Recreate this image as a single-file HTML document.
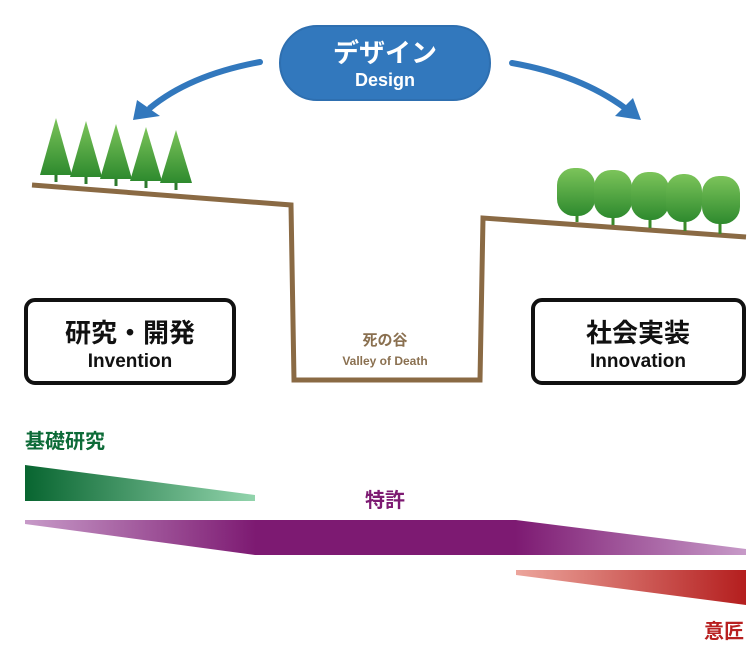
<!DOCTYPE html>
<html><head><meta charset="utf-8"><style>
html,body{margin:0;padding:0;background:#fff;width:756px;height:662px;overflow:hidden}
svg{display:block}
text{font-family:"Liberation Sans","Noto Sans CJK JP",sans-serif;font-weight:bold}
</style></head><body>
<svg width="756" height="662" viewBox="0 0 756 662" xmlns="http://www.w3.org/2000/svg">
<defs>
<linearGradient id="tree" x1="0" y1="0" x2="0" y2="1"><stop offset="0" stop-color="#7cc45a"/><stop offset="1" stop-color="#2e8a2e"/></linearGradient>
<linearGradient id="g" x1="0" x2="1"><stop offset="0" stop-color="#086530"/><stop offset="1" stop-color="#92d4ac"/></linearGradient>
<linearGradient id="p" x1="25" x2="746" gradientUnits="userSpaceOnUse"><stop offset="0" stop-color="#c79ac8"/><stop offset="0.32" stop-color="#7d1a72"/><stop offset="0.68" stop-color="#7d1a72"/><stop offset="1" stop-color="#c79ac8"/></linearGradient>
<linearGradient id="r" x1="0" x2="1"><stop offset="0" stop-color="#eca59c"/><stop offset="1" stop-color="#b41e1e"/></linearGradient>
</defs>
<!-- Design pill -->
<rect x="280" y="26" width="210" height="74" rx="37" fill="#3278bd" stroke="#2e6fb0" stroke-width="2"/>
<text x="385" y="62" font-size="26" fill="#fff" text-anchor="middle" font-weight="normal">デザイン</text>
<text x="385" y="86" font-size="18" fill="#fff" text-anchor="middle">Design</text>
<!-- arrows -->
<path d="M260 62 Q190 75 150 108" fill="none" stroke="#3278bd" stroke-width="6" stroke-linecap="round"/>
<polygon points="137,100 133,120 160,116" fill="#3278bd"/>
<path d="M512 63 Q580 75 625 108" fill="none" stroke="#3278bd" stroke-width="6" stroke-linecap="round"/>
<polygon points="633,98 641,120 615,116" fill="#3278bd"/>
<!-- ground -->
<path d="M32 185 L291 205 L294 380 L480 380 L483 218 L746 237" fill="none" stroke="#8a6a44" stroke-width="5" stroke-linejoin="miter"/>
<!-- conifers -->
<g stroke="#2e7a2e" stroke-width="3">
<line x1="56" y1="170" x2="56" y2="182"/><line x1="86" y1="172" x2="86" y2="184"/><line x1="116" y1="174" x2="116" y2="186"/><line x1="146" y1="176" x2="146" y2="188"/><line x1="176" y1="178" x2="176" y2="190"/>
</g>
<g fill="url(#tree)">
<polygon points="56,118 40,175 72,175"/><polygon points="86,121 70,177 102,177"/><polygon points="116,124 100,179 132,179"/><polygon points="146,127 130,181 162,181"/><polygon points="176,130 160,183 192,183"/>
</g>
<!-- round trees -->
<g stroke="#3a8a2a" stroke-width="3">
<line x1="577" y1="200" x2="577" y2="222"/><line x1="613" y1="202" x2="613" y2="225"/><line x1="650" y1="204" x2="650" y2="228"/><line x1="685" y1="206" x2="685" y2="231"/><line x1="720" y1="208" x2="720" y2="234"/>
</g>
<g fill="url(#tree)">
<rect x="557" y="168" width="38" height="48" rx="17"/><rect x="594" y="170" width="38" height="48" rx="17"/><rect x="631" y="172" width="38" height="48" rx="17"/><rect x="666" y="174" width="36" height="48" rx="17"/><rect x="702" y="176" width="38" height="48" rx="17"/>
</g>
<!-- boxes -->
<rect x="26" y="300" width="208" height="83" rx="9" fill="#fff" stroke="#111" stroke-width="4"/>
<text x="130" y="342" font-size="26" text-anchor="middle" fill="#111" font-weight="normal">研究・開発</text>
<text x="130" y="367" font-size="19" text-anchor="middle" fill="#111">Invention</text>
<rect x="533" y="300" width="211" height="83" rx="9" fill="#fff" stroke="#111" stroke-width="4"/>
<text x="638" y="342" font-size="26" text-anchor="middle" fill="#111" font-weight="normal">社会実装</text>
<text x="638" y="367" font-size="19" text-anchor="middle" fill="#111">Innovation</text>
<text x="385" y="345" font-size="15" text-anchor="middle" fill="#8a7050" font-weight="normal">死の谷</text>
<text x="385" y="365" font-size="12" text-anchor="middle" fill="#8a7050">Valley of Death</text>
<!-- bars -->
<text x="25" y="448" font-size="20" fill="#0d6b38">基礎研究</text>
<polygon points="25,465 255,495 255,501 25,501" fill="url(#g)"/>
<text x="385" y="507" font-size="20" fill="#7d1a72" text-anchor="middle">特許</text>
<polygon points="25,520 516,520 746,549 746,555 255,555 25,524" fill="url(#p)"/>
<polygon points="516,570 746,570 746,605 516,575" fill="url(#r)"/>
<text x="744" y="638" font-size="20" fill="#b82020" text-anchor="end">意匠</text>
</svg>
</body></html>
